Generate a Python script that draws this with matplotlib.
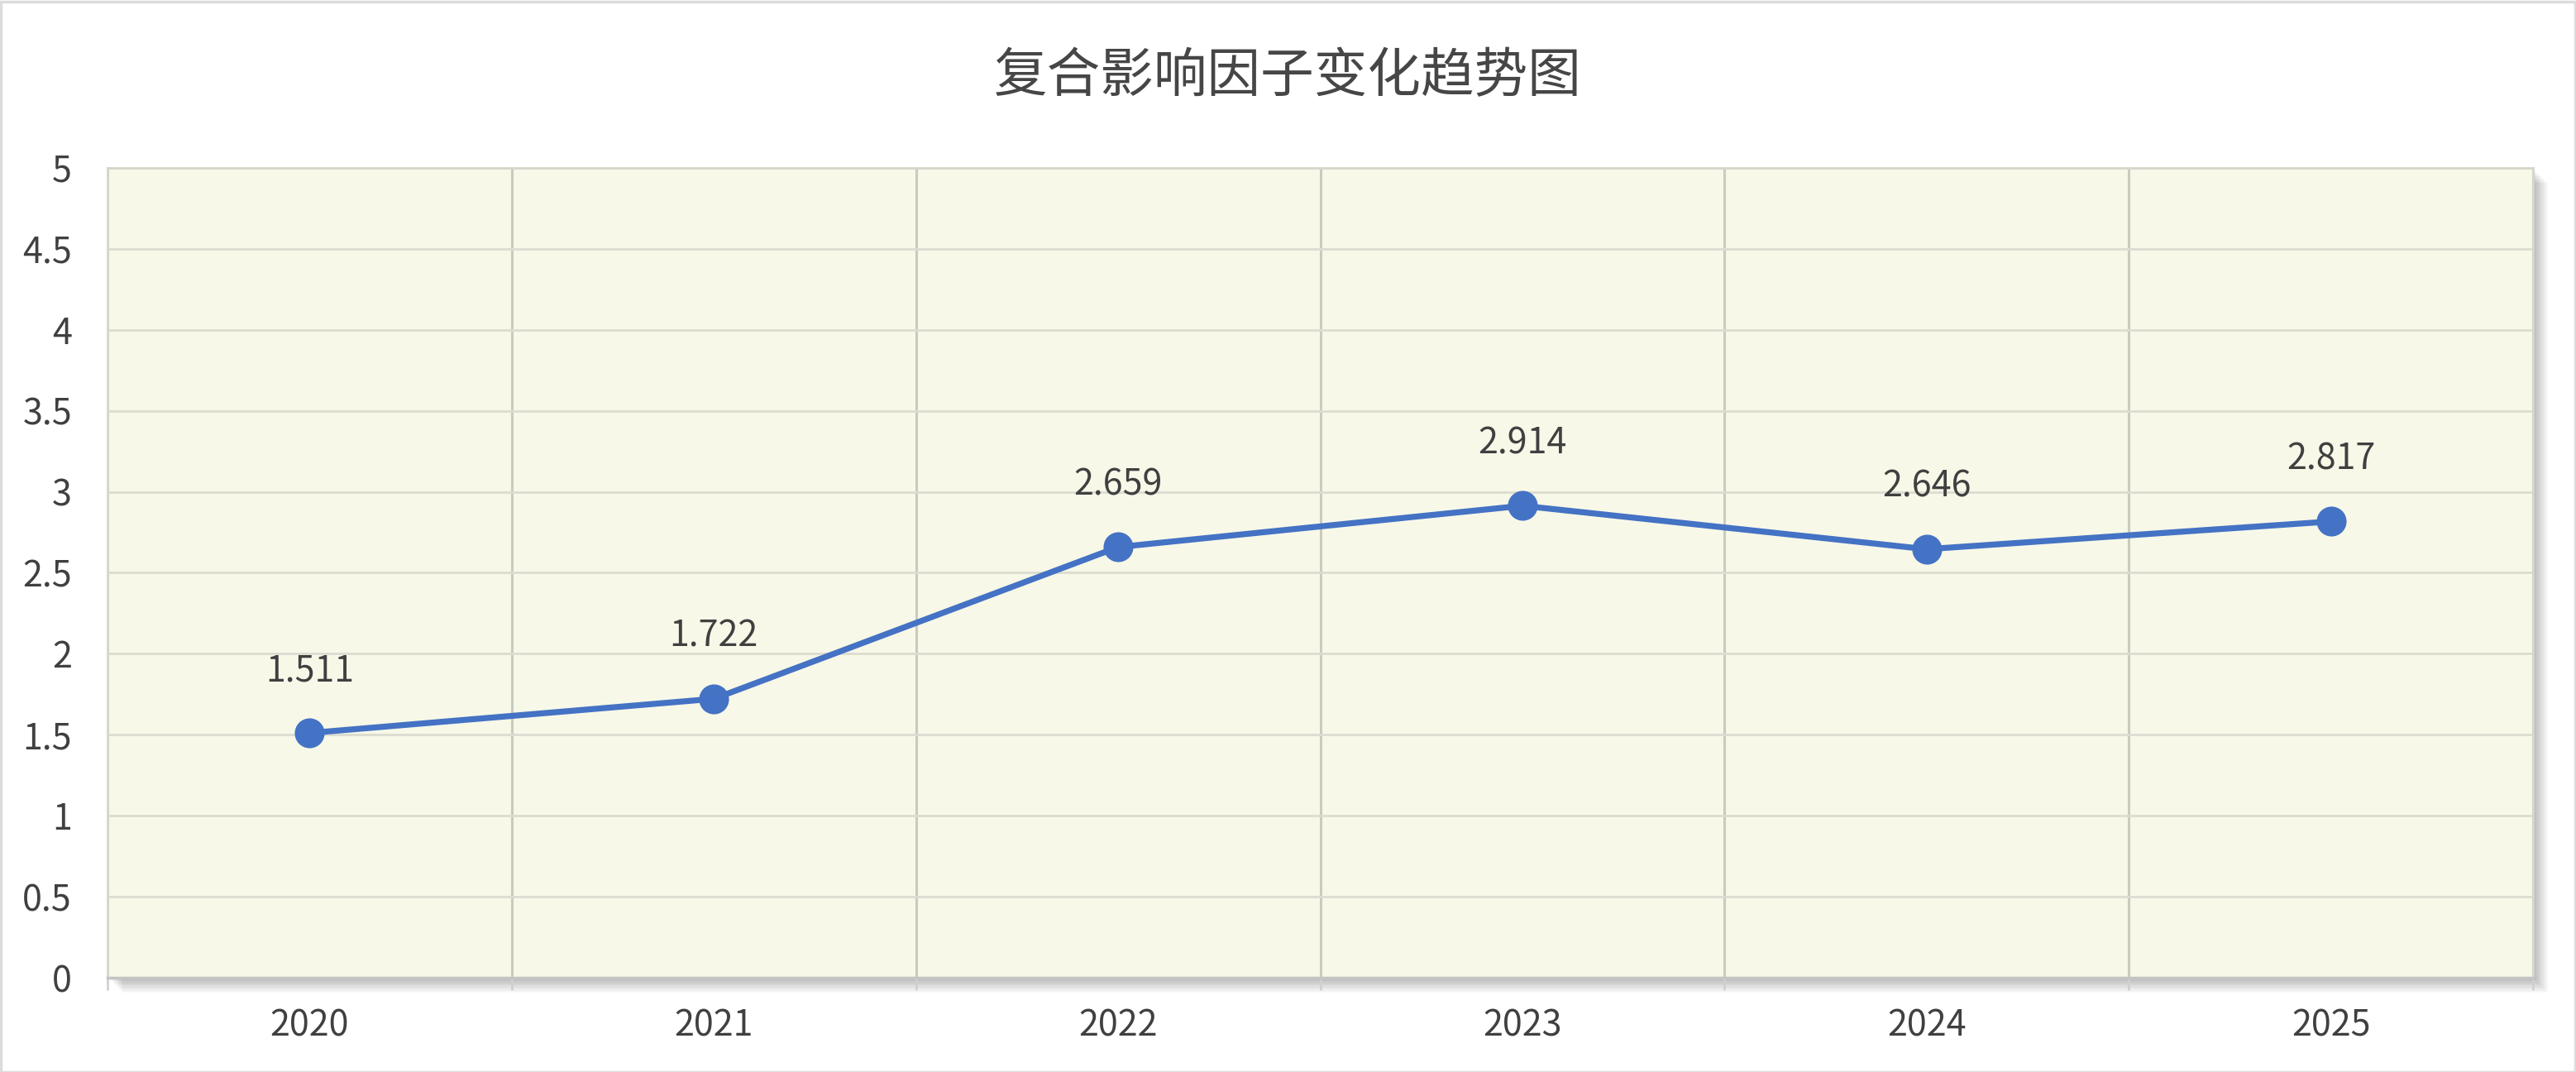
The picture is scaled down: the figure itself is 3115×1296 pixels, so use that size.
import numpy as np
import matplotlib
matplotlib.use('Agg')
import matplotlib.pyplot as plt
from matplotlib.patches import Rectangle

plt.rcParams['font.family'] = ['Noto Sans CJK SC', 'DejaVu Sans']

# data
years = ['2020', '2021', '2022', '2023', '2024', '2025']
values = [1.511, 1.722, 2.659, 2.914, 2.646, 2.817]
y_ticks = [0, 0.5, 1, 1.5, 2, 2.5, 3, 3.5, 4, 4.5, 5]
y_tick_labels = ['0', '0.5', '1', '1.5', '2', '2.5', '3', '3.5', '4', '4.5', '5']
title = '复合影响因子变化趋势图'

W, H = 3115, 1296
fig = plt.figure(figsize=(W / 100, H / 100), dpi=100)
fig.patch.set_facecolor('white')

# plot area in pixels
left, right, top, bottom = 130, 3063, 203, 1182
ax_rect = [left / W, 1 - bottom / H, (right - left) / W, (bottom - top) / H]

# soft drop shadow behind plot area
for i in range(1, 15):
    fig.patches.append(Rectangle(((left + i * 1.3) / W, 1 - (bottom + i * 1.3) / H),
                                 (right - left) / W, (bottom - top) / H,
                                 transform=fig.transFigure, facecolor='black',
                                 edgecolor='none', alpha=0.02, zorder=0))

# outer border of the image
fig.patches.append(Rectangle((0.5 / W, 0.5 / H), 1 - 2 / W, 1 - 2 / H,
                             transform=fig.transFigure, facecolor='none',
                             edgecolor='#dcdcdc', linewidth=2.5, zorder=0))

ax = fig.add_axes(ax_rect)
ax.set_facecolor('#f7f8e8')
ax.set_zorder(1)

x = np.arange(len(years))
ax.plot(x, values, color='#4472c4', linewidth=5.2, marker='o', markersize=26,
        markeredgewidth=0, zorder=3, solid_capstyle='round')

for xi, v in zip(x, values):
    ax.annotate(f'{v:.3f}', (xi, v), xytext=(0, 54), textcoords='offset points',
                ha='center', va='center', fontsize=31, color='#404040', zorder=4)

ax.set_xlim(-0.5, len(years) - 0.5)
ax.set_ylim(0, 5)

ax.set_xticks(x)
ax.set_xticklabels(years)
ax.set_xticks(np.arange(-0.5, len(years), 1), minor=True)
ax.tick_params(axis='x', which='major', length=0, pad=26, labelsize=31, labelcolor='#404040')
ax.tick_params(axis='x', which='minor', length=11, width=2, color='#d0d0d0', direction='out')

ax.set_yticks(y_ticks)
ax.set_yticklabels(y_tick_labels)
ax.tick_params(axis='y', length=0, pad=31, labelsize=31, labelcolor='#404040')

ax.grid(axis='y', which='major', color='#dcdcd0', linewidth=2)
ax.grid(axis='x', which='minor', color='#cacbbf', linewidth=2.2)
ax.set_axisbelow(True)

for side in ['left', 'right', 'top']:
    ax.spines[side].set_color('#d6d6cc')
    ax.spines[side].set_linewidth(2)
ax.spines['bottom'].set_color('#c4c4c4')
ax.spines['bottom'].set_linewidth(2.5)

fig.text(1557 / W, 1 - 93 / H, title, ha='center', va='center',
         fontsize=46.5, color='#464646')

fig.savefig('out.png', dpi=100, facecolor='white')
